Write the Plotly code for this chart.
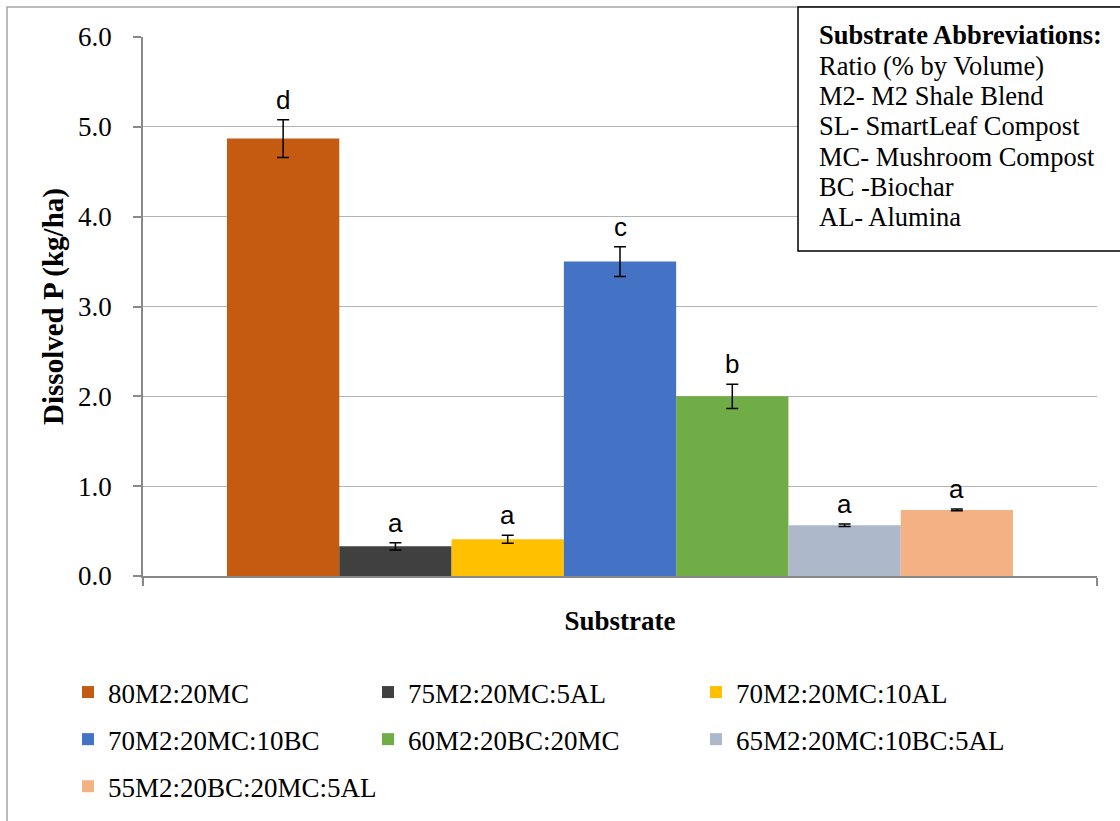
import plotly.graph_objects as go

# Dissolved phosphorus by green-roof substrate blend
substrates = [
    "80M2:20MC",
    "75M2:20MC:5AL",
    "70M2:20MC:10AL",
    "70M2:20MC:10BC",
    "60M2:20BC:20MC",
    "65M2:20MC:10BC:5AL",
    "55M2:20BC:20MC:5AL",
]
dissolved_p = [4.87, 0.33, 0.41, 3.50, 2.00, 0.565, 0.735]
std_err = [0.21, 0.04, 0.045, 0.165, 0.135, 0.015, 0.01]
sig_letters = ["d", "a", "a", "c", "b", "a", "a"]
colors = ["#C55A11", "#404040", "#FFC000", "#4472C4", "#70AD47", "#ADB9CA", "#F4B183"]
positions = list(range(len(substrates)))

# legend column for each series (three columns, filled row by row)
legend_cols = ["legend", "legend2", "legend3", "legend", "legend2", "legend3", "legend"]

abbrev_title = "Substrate Abbreviations:"
abbrev_lines = [
    "Ratio (% by Volume)",
    "M2- M2 Shale Blend",
    "SL- SmartLeaf Compost",
    "MC- Mushroom Compost",
    "BC -Biochar",
    "AL- Alumina",
]

W, H = 1120, 821
ML, MR, MT, MB = 143, 23, 37, 245
PW, PH = W - ML - MR, H - MT - MB


def px_x(px):
    return (px - ML) / PW


def px_y(py):
    return (H - MB - py) / PH


serif = "Liberation Serif"
fig = go.Figure()

for i, name in enumerate(substrates):
    fig.add_trace(go.Bar(
        x=[positions[i]],
        y=[dissolved_p[i]],
        width=1.0,
        name=name,
        marker=dict(color=colors[i], line=dict(width=0)),
        error_y=dict(type="data", array=[std_err[i]], color="black",
                     thickness=1.5, width=6),
        legend=legend_cols[i],
        legendgroup=name,
    ))

annotations = []
for i, letter in enumerate(sig_letters):
    annotations.append(dict(
        x=positions[i], y=dissolved_p[i] + std_err[i],
        xref="x", yref="y", text=letter, showarrow=False,
        yanchor="bottom", yshift=3,
        font=dict(family="Liberation Sans", size=26, color="black"),
    ))

# abbreviations text box
line_y = [35, 66, 96, 126, 157, 187, 217]
texts = ["<b>" + abbrev_title + "</b>"] + abbrev_lines
for t, yy in zip(texts, line_y):
    annotations.append(dict(
        x=px_x(817), y=px_y(yy), xref="paper", yref="paper",
        text=t, showarrow=False, xanchor="left", yanchor="middle",
        font=dict(family=serif, size=26.5, color="black"),
    ))

shapes = [
    # outer chart frame
    dict(type="rect", xref="paper", yref="paper",
         x0=px_x(7), x1=px_x(1400), y0=px_y(1100), y1=px_y(7),
         line=dict(color="#A6A6A6", width=1.5), layer="below"),
    # abbreviations box
    dict(type="rect", xref="paper", yref="paper",
         x0=px_x(798), x1=px_x(1400), y0=px_y(251), y1=px_y(7),
         line=dict(color="black", width=1.5), fillcolor="white", layer="above"),
]

legend_common = dict(
    orientation="v", bgcolor="rgba(0,0,0,0)", borderwidth=0,
    font=dict(family=serif, size=27, color="black"),
    xanchor="left", yanchor="top", y=px_y(668), tracegroupgap=9,
    traceorder="grouped",
)

x_lo, x_hi = -1.248, 7.248

fig.update_layout(
    width=W, height=H,
    margin=dict(l=ML, r=MR, t=MT, b=MB, pad=0, autoexpand=False),
    paper_bgcolor="white", plot_bgcolor="white",
    barmode="overlay",
    showlegend=True,
    legend=dict(legend_common, x=px_x(68)),
    legend2=dict(legend_common, x=px_x(368)),
    legend3=dict(legend_common, x=px_x(696)),
    xaxis=dict(
        range=[x_lo, x_hi], showgrid=False, zeroline=False,
        showline=True, linecolor="#898989", linewidth=1.5,
        tickmode="array", tickvals=[x_lo, x_hi], showticklabels=False,
        ticks="outside", ticklen=8, tickcolor="#898989", tickwidth=1.5,
        title=dict(text="<b>Substrate</b>", standoff=26,
                   font=dict(family=serif, size=27, color="black")),
    ),
    yaxis=dict(
        range=[0, 6], dtick=1, tickformat=".1f",
        showgrid=True, gridcolor="#B3B3B3", gridwidth=1.2, zeroline=False,
        showline=True, linecolor="#898989", linewidth=1.5,
        ticks="outside", ticklen=8, tickcolor="#898989", tickwidth=1.5,
        ticklabelstandoff=16,
        tickfont=dict(family=serif, size=27, color="black"),
        title=dict(text="<b>Dissolved P (kg/ha)</b>", standoff=6,
                   font=dict(family=serif, size=29, color="black")),
    ),
    annotations=annotations,
    shapes=shapes,
)

fig.write_html("out.html")
